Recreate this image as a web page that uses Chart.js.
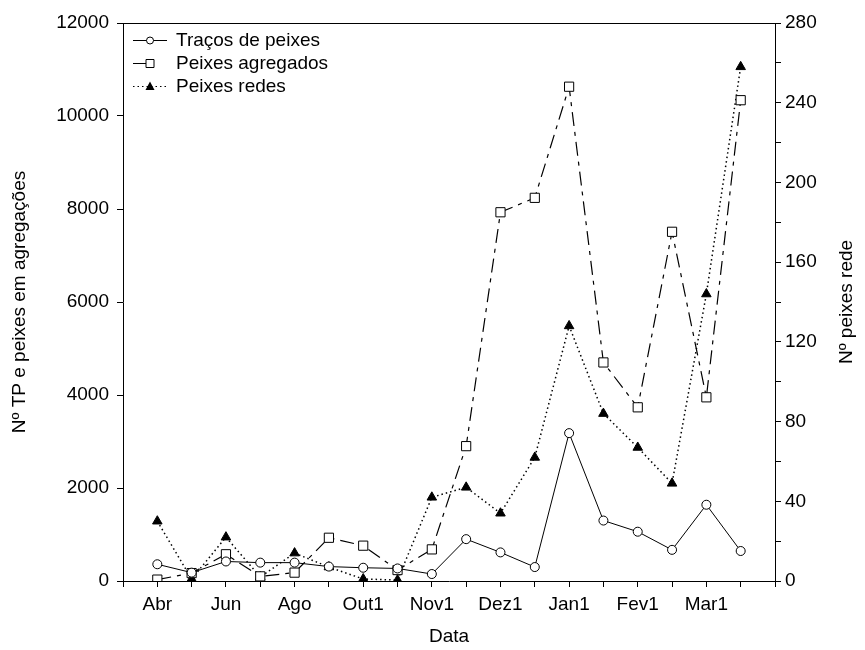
<!DOCTYPE html>
<html>
<head>
<meta charset="utf-8">
<script src="https://cdn.jsdelivr.net/npm/chart.js@4/dist/chart.umd.min.js"></script>
<style>
  html, body { margin: 0; padding: 0; background: #fff; }
  #wrap { width: 865px; height: 650px; }
</style>
</head>
<body>
<div id="wrap"><canvas id="c" width="865" height="650"></canvas></div>
<script>
// Sampling dates (fortnightly); only every second one is labelled on the axis
const categories = ['Abr', 'Mai', 'Jun', 'Jul', 'Ago', 'Set', 'Out1', 'Out2', 'Nov1',
                    'Nov2', 'Dez1', 'Dez2', 'Jan1', 'Jan2', 'Fev1', 'Fev2', 'Mar1', 'Mar2'];

// Left axis: number of fish traces (TP) and fish in aggregations
const tracosPeixes = [360, 180, 420, 395, 395, 310, 285, 270, 150, 900, 615, 300,
                      3180, 1300, 1060, 670, 1640, 645];
const peixesAgregados = [30, 170, 575, 100, 180, 930, 760, 235, 680, 2900, 7930, 8240,
                         10630, 4700, 3735, 7510, 3950, 10340];

// Right axis: fish caught in nets
const peixesRedes = [30, 1, 22, 2, 14, 7, 1, 0.5, 42, 47, 34, 62, 128, 84, 67, 49, 144, 258];

const leftMax = 12000, leftStep = 2000;
const rightMax = 280, rightStep = 20, rightLabelStep = 40;

const FONT = { family: '"Liberation Sans", Arial, sans-serif', size: 19 };
const INK = '#000';

const toPoints = arr => arr.map((v, i) => ({ x: i, y: v }));

// Legend drawn as line sample + marker, like a classic plotting package
const legendPlugin = {
  id: 'lineLegend',
  afterDraw(chart) {
    const ctx = chart.ctx;
    const x0 = chart.chartArea.left + 10;
    const rows = [40, 63, 86];
    ctx.save();
    ctx.font = `${FONT.size}px ${FONT.family}`;
    ctx.textBaseline = 'middle';
    ctx.fillStyle = INK;
    chart.data.datasets.forEach((ds, i) => {
      const y = rows[i] + 0.5;
      const mx = x0 + 17;
      ctx.strokeStyle = INK;
      ctx.lineWidth = 1;
      ctx.setLineDash(ds.legendDash || []);
      ctx.beginPath();
      ctx.moveTo(x0, y);
      ctx.lineTo(ds.legendLineEnd ? x0 + ds.legendLineEnd : x0 + 34, y);
      ctx.stroke();
      ctx.setLineDash([]);
      ctx.beginPath();
      if (ds.pointStyle === 'circle') {
        ctx.arc(mx, y, 3.5, 0, Math.PI * 2);
        ctx.fillStyle = '#fff'; ctx.fill(); ctx.stroke();
      } else if (ds.pointStyle === 'rect') {
        ctx.rect(mx - 4, y - 4, 8, 8);
        ctx.fillStyle = '#fff'; ctx.fill(); ctx.stroke();
      } else {
        ctx.moveTo(mx, y - 5); ctx.lineTo(mx + 4.5, y + 3.5); ctx.lineTo(mx - 4.5, y + 3.5);
        ctx.closePath();
        ctx.fillStyle = INK; ctx.fill();
      }
      ctx.fillStyle = INK;
      ctx.fillText(ds.label, x0 + 43, y);
    });
    ctx.restore();
  }
};

// Top edge of the frame and the right-hand axis title (reads bottom to top)
const framePlugin = {
  id: 'frame',
  afterDraw(chart) {
    const { ctx, chartArea: a } = chart;
    ctx.save();
    ctx.strokeStyle = INK;
    ctx.lineWidth = 1;
    ctx.beginPath();
    ctx.moveTo(a.left, a.top + 0.5);
    ctx.lineTo(a.right, a.top + 0.5);
    ctx.stroke();
    ctx.translate(847, (a.top + a.bottom) / 2);
    ctx.rotate(-Math.PI / 2);
    ctx.font = `${FONT.size}px ${FONT.family}`;
    ctx.fillStyle = INK;
    ctx.textAlign = 'center';
    ctx.textBaseline = 'middle';
    ctx.fillText('Nº peixes rede', 0, 0);
    ctx.restore();
  }
};

const axisGrid = { drawOnChartArea: false, drawTicks: true, tickLength: 6, color: INK, lineWidth: 1 };
const axisBorder = { display: true, color: INK, width: 1 };

new Chart(document.getElementById('c'), {
  type: 'line',
  data: {
    datasets: [
      {
        label: 'Traços de peixes',
        data: toPoints(tracosPeixes),
        yAxisID: 'y',
        borderColor: INK, borderWidth: 1,
        pointStyle: 'circle', pointRadius: 4.5,
        pointBackgroundColor: '#fff', pointBorderColor: INK, pointBorderWidth: 1,
        legendDash: []
      },
      {
        label: 'Peixes agregados',
        data: toPoints(peixesAgregados),
        yAxisID: 'y',
        borderColor: INK, borderWidth: 1.2,
        borderDash: [14, 6, 4, 6],
        pointStyle: 'rect', pointRadius: 6.5,
        pointBackgroundColor: '#fff', pointBorderColor: INK, pointBorderWidth: 1,
        legendDash: [], legendLineEnd: 14
      },
      {
        label: 'Peixes redes',
        data: toPoints(peixesRedes),
        yAxisID: 'y2',
        borderColor: INK, borderWidth: 1.5,
        borderDash: [1.5, 3],
        pointStyle: 'triangle', pointRadius: 5.5,
        pointBackgroundColor: INK, pointBorderColor: INK, pointBorderWidth: 1,
        legendDash: [1.5, 3]
      }
    ]
  },
  options: {
    responsive: false,
    animation: false,
    devicePixelRatio: 1,
    layout: { padding: { top: 23, left: 0, right: 0, bottom: 0 } },
    plugins: { legend: { display: false }, tooltip: { enabled: false } },
    elements: { line: { tension: 0 } },
    scales: {
      x: {
        type: 'linear',
        position: 'bottom',
        min: -1, max: categories.length,
        grid: axisGrid,
        border: axisBorder,
        ticks: {
          stepSize: 1, autoSkip: false, maxRotation: 0, padding: 6,
          color: INK, font: FONT,
          callback: v => (v >= 0 && v < categories.length && v % 2 === 0) ? categories[v] : ''
        },
        title: { display: true, text: 'Data', color: INK, font: FONT, padding: { top: 0, bottom: 2 } },
        afterFit: s => { s.width = s.width; s.height = 69; }
      },
      y: {
        position: 'left',
        min: 0, max: leftMax,
        grid: axisGrid,
        border: axisBorder,
        ticks: { stepSize: leftStep, padding: 8, color: INK, font: FONT, callback: v => String(v) },
        title: { display: true, text: 'Nº TP e peixes em agregações', color: INK, font: FONT, padding: { top: 8, bottom: 0 } },
        afterFit: s => { s.width = 123; }
      },
      y2: {
        position: 'right',
        min: 0, max: rightMax,
        grid: axisGrid,
        border: axisBorder,
        ticks: {
          stepSize: rightStep, padding: 4, color: INK, font: FONT,
          callback: v => (v % rightLabelStep === 0) ? String(v) : ''
        },
        afterFit: s => { s.width = 90; }
      }
    }
  },
  plugins: [legendPlugin, framePlugin]
});
</script>
</body>
</html>
